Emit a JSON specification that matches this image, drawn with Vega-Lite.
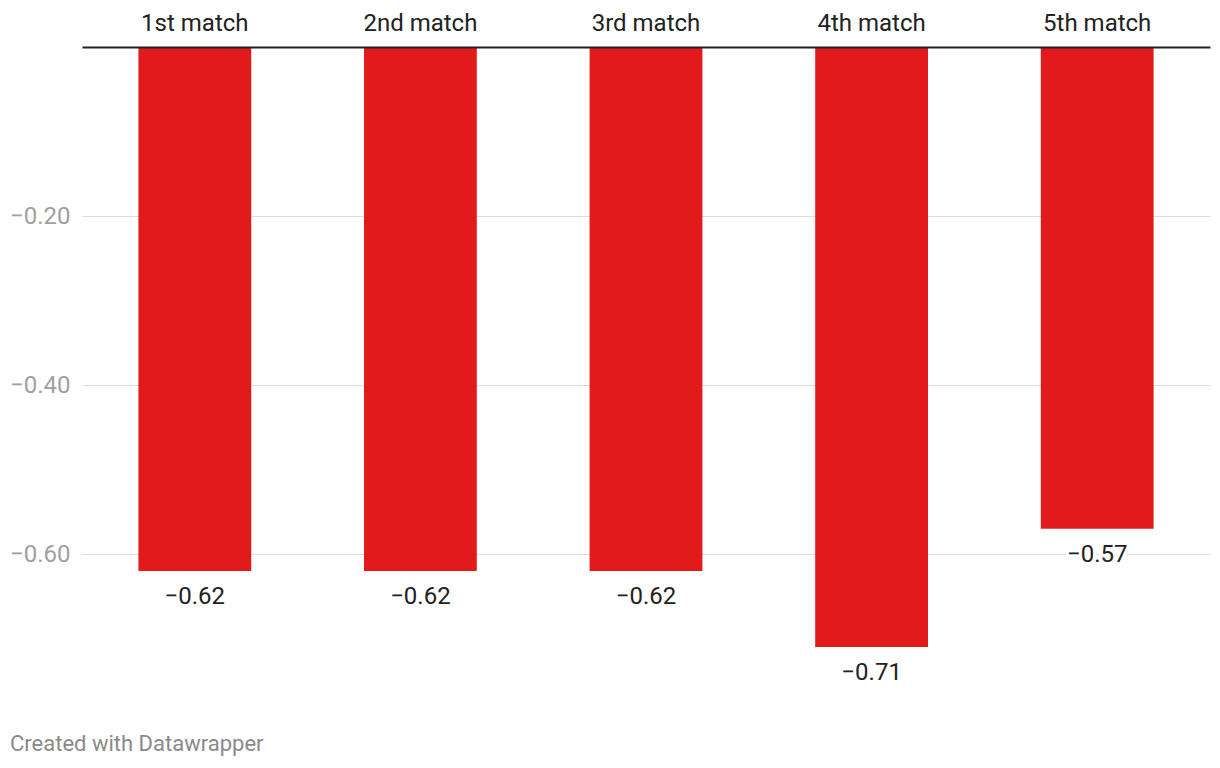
{
  "$schema": "https://vega.github.io/schema/vega-lite/v6.json",
  "width": 1128,
  "height": 676,
  "autosize": {"type": "none"},
  "padding": {"left": 82, "top": 47, "right": 10, "bottom": 45},
  "background": "white",
  "title": {"text": "Created with Datawrapper", "orient": "bottom", "anchor": "start", "frame": "group", "dx": -72, "offset": 11, "fontSize": 22, "font": "Roboto", "fontWeight": "normal", "color": "#8a8a8a", "baseline": "top"},
  "config": {"view": {"stroke": null}, "font": "Roboto"},
  "data": {"values": [
    {"match": "1st match", "value": -0.62},
    {"match": "2nd match", "value": -0.62},
    {"match": "3rd match", "value": -0.62},
    {"match": "4th match", "value": -0.71},
    {"match": "5th match", "value": -0.57}
  ]},
  "encoding": {
    "x": {"field": "match", "type": "nominal", "sort": null,
      "scale": {"paddingInner": 0.5, "paddingOuter": 0.25},
      "axis": {"orient": "top", "title": null, "labelAngle": 0, "labelFontSize": 24, "labelColor": "#222222", "ticks": false, "domainColor": "#222222", "domainWidth": 2, "labelPadding": 12, "grid": false, "zindex": 1}}
  },
  "layer": [
    {"mark": {"type": "bar", "color": "#e31a1c"},
     "encoding": {"y": {"field": "value", "type": "quantitative", "scale": {"domain": [-0.8, 0], "nice": false},
       "axis": {"title": null, "values": [-0.2, -0.4, -0.6], "format": ".2f", "labelFontSize": 24, "labelColor": "#a0a0a0", "ticks": false, "domain": false, "gridColor": "#dddddd", "labelPadding": 12}}}},
    {"mark": {"type": "text", "baseline": "top", "dy": 14, "fontSize": 24, "stroke": "white", "strokeWidth": 6, "strokeJoin": "round", "color": "white"},
     "encoding": {"y": {"field": "value", "type": "quantitative"}, "text": {"field": "value", "type": "quantitative", "format": ".2f"}}},
    {"mark": {"type": "text", "baseline": "top", "dy": 14, "fontSize": 24, "color": "#222222"},
     "encoding": {"y": {"field": "value", "type": "quantitative"}, "text": {"field": "value", "type": "quantitative", "format": ".2f"}}}
  ]
}
